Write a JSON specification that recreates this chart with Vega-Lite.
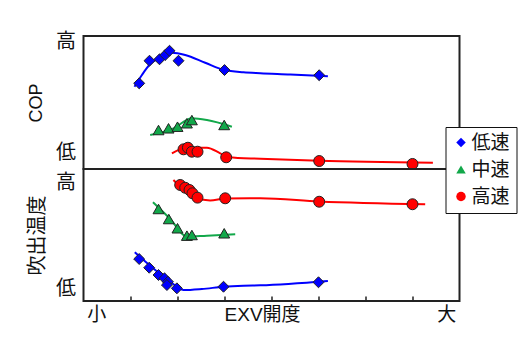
{
  "$schema": "https://vega.github.io/schema/vega-lite/v6.json",
  "background": "white",
  "padding": {"left": 26.5, "top": 30, "right": 5, "bottom": 5},
  "spacing": 0,
  "bounds": "flush",
  "config": {
    "font": "Liberation Sans, Noto Sans CJK JP",
    "view": {"stroke": "#222", "strokeWidth": 2},
    "concat": {"spacing": 0},
    "axis": {"labelColor": "#111", "titleColor": "#111", "labelFont": "Liberation Sans, Noto Sans CJK JP", "titleFont": "Liberation Sans, Noto Sans CJK JP"},
    "legend": {"title": null, "orient": "none", "legendX": 362, "legendY": 91, "strokeColor": "#111", "fillColor": "white", "padding": 6, "labelFontSize": 19, "labelFont": "Liberation Sans, Noto Sans CJK JP", "labelColor": "#111", "symbolSize": 90, "rowPadding": 7, "labelOffset": 1, "symbolStrokeWidth": 0}
  },
  "datasets": {
    "curves": [
      {"panel": "COP", "speed": "低速", "x": 1.085, "y": 6.19},
      {"panel": "COP", "speed": "低速", "x": 1.243, "y": 7.07},
      {"panel": "COP", "speed": "低速", "x": 1.419, "y": 7.89},
      {"panel": "COP", "speed": "低速", "x": 1.668, "y": 8.44},
      {"panel": "COP", "speed": "低速", "x": 1.881, "y": 8.74},
      {"panel": "COP", "speed": "低速", "x": 2.164, "y": 8.57},
      {"panel": "COP", "speed": "低速", "x": 2.589, "y": 7.99},
      {"panel": "COP", "speed": "低速", "x": 3.0, "y": 7.44},
      {"panel": "COP", "speed": "低速", "x": 3.404, "y": 7.27},
      {"panel": "COP", "speed": "低速", "x": 3.76, "y": 7.2},
      {"panel": "COP", "speed": "低速", "x": 4.4, "y": 7.11},
      {"panel": "COP", "speed": "低速", "x": 5.2, "y": 6.97},
      {"panel": "COP", "speed": "中速", "x": 1.419, "y": 2.56},
      {"panel": "COP", "speed": "中速", "x": 1.915, "y": 3.06},
      {"panel": "COP", "speed": "中速", "x": 2.306, "y": 3.81},
      {"panel": "COP", "speed": "中速", "x": 2.626, "y": 3.68},
      {"panel": "COP", "speed": "中速", "x": 3.157, "y": 3.18},
      {"panel": "COP", "speed": "高速", "x": 1.881, "y": 1.18},
      {"panel": "COP", "speed": "高速", "x": 2.2, "y": 1.6},
      {"panel": "COP", "speed": "高速", "x": 2.626, "y": 1.6},
      {"panel": "COP", "speed": "高速", "x": 2.909, "y": 1.18},
      {"panel": "COP", "speed": "高速", "x": 3.085, "y": 0.88},
      {"panel": "COP", "speed": "高速", "x": 3.76, "y": 0.77},
      {"panel": "COP", "speed": "高速", "x": 5.015, "y": 0.62},
      {"panel": "COP", "speed": "高速", "x": 7.434, "y": 0.47},
      {"panel": "T", "speed": "高速", "x": 1.913, "y": 9.17},
      {"panel": "T", "speed": "高速", "x": 2.411, "y": 7.78},
      {"panel": "T", "speed": "高速", "x": 2.694, "y": 7.62},
      {"panel": "T", "speed": "高速", "x": 3.015, "y": 7.76},
      {"panel": "T", "speed": "高速", "x": 3.76, "y": 7.78},
      {"panel": "T", "speed": "高速", "x": 5.015, "y": 7.54},
      {"panel": "T", "speed": "高速", "x": 7.27, "y": 7.33},
      {"panel": "T", "speed": "中速", "x": 1.477, "y": 7.48},
      {"panel": "T", "speed": "中速", "x": 1.845, "y": 6.21},
      {"panel": "T", "speed": "中速", "x": 2.2, "y": 4.87},
      {"panel": "T", "speed": "中速", "x": 2.626, "y": 4.95},
      {"panel": "T", "speed": "中速", "x": 3.228, "y": 5.05},
      {"panel": "T", "speed": "低速", "x": 1.091, "y": 3.69},
      {"panel": "T", "speed": "低速", "x": 1.526, "y": 2.35},
      {"panel": "T", "speed": "低速", "x": 1.994, "y": 1.08},
      {"panel": "T", "speed": "低速", "x": 2.128, "y": 0.83},
      {"panel": "T", "speed": "低速", "x": 2.519, "y": 0.91},
      {"panel": "T", "speed": "低速", "x": 2.979, "y": 1.08},
      {"panel": "T", "speed": "低速", "x": 3.404, "y": 1.16},
      {"panel": "T", "speed": "低速", "x": 3.76, "y": 1.19},
      {"panel": "T", "speed": "低速", "x": 5.2, "y": 1.52}
    ],
    "points": [
      {"panel": "COP", "speed": "低速", "x": 1.185, "y": 6.44},
      {"panel": "COP", "speed": "低速", "x": 1.404, "y": 8.14},
      {"panel": "COP", "speed": "低速", "x": 1.617, "y": 8.25},
      {"panel": "COP", "speed": "低速", "x": 1.738, "y": 8.57},
      {"panel": "COP", "speed": "低速", "x": 1.83, "y": 8.89},
      {"panel": "COP", "speed": "低速", "x": 2.021, "y": 8.14},
      {"panel": "COP", "speed": "低速", "x": 3.0, "y": 7.44},
      {"panel": "COP", "speed": "低速", "x": 5.015, "y": 7.05},
      {"panel": "COP", "speed": "中速", "x": 1.596, "y": 2.93},
      {"panel": "COP", "speed": "中速", "x": 1.809, "y": 3.06},
      {"panel": "COP", "speed": "中速", "x": 2.0, "y": 3.18},
      {"panel": "COP", "speed": "中速", "x": 2.2, "y": 3.44},
      {"panel": "COP", "speed": "中速", "x": 2.306, "y": 3.68},
      {"panel": "COP", "speed": "中速", "x": 2.994, "y": 3.31},
      {"panel": "COP", "speed": "高速", "x": 2.128, "y": 1.48},
      {"panel": "COP", "speed": "高速", "x": 2.221, "y": 1.6},
      {"panel": "COP", "speed": "高速", "x": 2.306, "y": 1.3},
      {"panel": "COP", "speed": "高速", "x": 2.426, "y": 1.3},
      {"panel": "COP", "speed": "高速", "x": 3.036, "y": 0.88},
      {"panel": "COP", "speed": "高速", "x": 5.015, "y": 0.6},
      {"panel": "COP", "speed": "高速", "x": 7.0, "y": 0.38},
      {"panel": "T", "speed": "高速", "x": 2.057, "y": 8.79},
      {"panel": "T", "speed": "高速", "x": 2.164, "y": 8.58},
      {"panel": "T", "speed": "高速", "x": 2.255, "y": 8.41},
      {"panel": "T", "speed": "高速", "x": 2.319, "y": 8.16},
      {"panel": "T", "speed": "高速", "x": 2.426, "y": 7.83},
      {"panel": "T", "speed": "高速", "x": 3.015, "y": 7.78},
      {"panel": "T", "speed": "高速", "x": 5.015, "y": 7.52},
      {"panel": "T", "speed": "高速", "x": 7.0, "y": 7.33},
      {"panel": "T", "speed": "中速", "x": 1.596, "y": 6.97},
      {"panel": "T", "speed": "中速", "x": 1.815, "y": 6.21},
      {"panel": "T", "speed": "中速", "x": 2.0, "y": 5.51},
      {"panel": "T", "speed": "中速", "x": 2.2, "y": 4.95},
      {"panel": "T", "speed": "中速", "x": 2.306, "y": 5.0},
      {"panel": "T", "speed": "中速", "x": 2.994, "y": 5.13},
      {"panel": "T", "speed": "低速", "x": 1.185, "y": 3.18},
      {"panel": "T", "speed": "低速", "x": 1.398, "y": 2.52},
      {"panel": "T", "speed": "低速", "x": 1.596, "y": 1.97},
      {"panel": "T", "speed": "低速", "x": 1.723, "y": 1.72},
      {"panel": "T", "speed": "低速", "x": 1.796, "y": 1.46},
      {"panel": "T", "speed": "低速", "x": 1.775, "y": 1.21},
      {"panel": "T", "speed": "低速", "x": 1.987, "y": 0.96},
      {"panel": "T", "speed": "低速", "x": 2.979, "y": 1.08},
      {"panel": "T", "speed": "低速", "x": 5.0, "y": 1.42}
    ]
  },
  "vconcat": [
    {
      "width": 376,
      "height": 133,
      "layer": [
        {
          "data": {"name": "curves"},
          "transform": [{"filter": "datum.panel === 'COP'"}],
          "mark": {"type": "line", "interpolate": "monotone", "strokeWidth": 2},
          "encoding": {
            "x": {"field": "x", "type": "quantitative", "scale": {"domain": [0, 8], "nice": false, "zero": false}, "axis": null},
            "y": {"field": "y", "type": "quantitative", "scale": {"domain": [0, 10], "nice": false}, "axis": {"values": [9.55, 1.24], "labelExpr": "datum.value > 5 ? '高' : '低'", "ticks": false, "domain": false, "grid": false, "labelFontSize": 20, "labelPadding": 8, "title": "COP", "titleFontSize": 18, "titleFontWeight": "normal", "titlePadding": 10}},
            "color": {"field": "speed", "type": "nominal", "scale": {"domain": ["低速", "中速", "高速"], "range": ["#0000ff", "#12a84a", "#ff0000"]}}
          }
        },
        {
          "data": {"name": "points"},
          "transform": [{"filter": "datum.panel === 'COP'"}],
          "mark": {"type": "point", "filled": true, "opacity": 1, "stroke": "#222", "strokeWidth": 1, "size": 120},
          "encoding": {
            "x": {"field": "x", "type": "quantitative", "axis": null},
            "y": {"field": "y", "type": "quantitative"},
            "color": {"field": "speed", "type": "nominal"},
            "shape": {"field": "speed", "type": "nominal", "scale": {"domain": ["低速", "中速", "高速"], "range": ["diamond", "triangle-up", "circle"]}}
          }
        }
      ]
    },
    {
      "width": 376,
      "height": 132,
      "layer": [
        {
          "data": {"name": "curves"},
          "transform": [{"filter": "datum.panel === 'T'"}],
          "mark": {"type": "line", "interpolate": "monotone", "strokeWidth": 2},
          "encoding": {
            "x": {"field": "x", "type": "quantitative", "scale": {"domain": [0, 8], "nice": false, "zero": false}, "axis": {"values": [0.27, 1, 2, 3, 3.8, 4, 5, 6, 7, 7.72], "labelExpr": "datum.value == 0.27 ? '小' : datum.value == 3.8 ? 'EXV開度' : datum.value == 7.72 ? '大' : ''", "domain": false, "grid": false, "tickSize": -5, "tickWidth": 1.5, "tickColor": {"condition": {"test": "datum.value == 0.27 || datum.value == 3.8 || datum.value == 7.72", "value": "transparent"}, "value": "#222"}, "labelFontSize": 19, "labelPadding": 9, "labelOverlap": false, "labelFlush": false, "labelBound": false, "title": null}},
            "y": {"field": "y", "type": "quantitative", "scale": {"domain": [0, 10], "nice": false}, "axis": {"values": [9.0, 0.91], "labelExpr": "datum.value > 5 ? '高' : '低'", "ticks": false, "domain": false, "grid": false, "labelFontSize": 20, "labelPadding": 8, "title": "吹出温度", "titleFontSize": 20, "titleFontWeight": "normal", "titlePadding": 8}},
            "color": {"field": "speed", "type": "nominal"}
          }
        },
        {
          "data": {"name": "points"},
          "transform": [{"filter": "datum.panel === 'T'"}],
          "mark": {"type": "point", "filled": true, "opacity": 1, "stroke": "#222", "strokeWidth": 1, "size": 120},
          "encoding": {
            "x": {"field": "x", "type": "quantitative"},
            "y": {"field": "y", "type": "quantitative"},
            "color": {"field": "speed", "type": "nominal"},
            "shape": {"field": "speed", "type": "nominal"}
          }
        }
      ]
    }
  ]
}
